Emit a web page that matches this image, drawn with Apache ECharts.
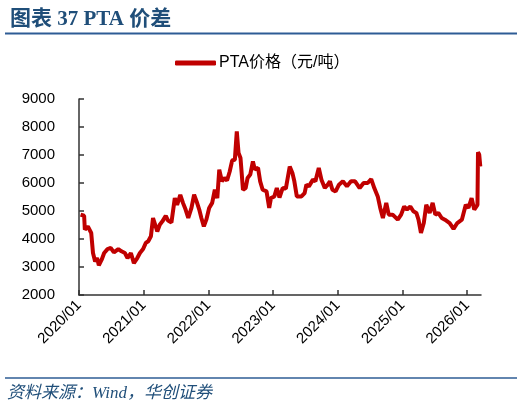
<!DOCTYPE html>
<html><head><meta charset="utf-8">
<script src="https://cdn.jsdelivr.net/npm/echarts@6/dist/echarts.min.js"></script>
<style>html,body{margin:0;padding:0;background:#fff}#c{width:524px;height:409px}</style>
</head><body><div id="c"></div>
<script>
const titleText = '图表 37 PTA 价差';
const sourceText = '资料来源：Wind，华创证券';
const seriesName = 'PTA价格（元/吨）';
const yTicks = [2000, 9000, 1000];
const dates = [
'2020-01-10','2020-01-30','2020-02-03','2020-02-20','2020-03-10','2020-03-20','2020-04-01','2020-04-12','2020-04-22','2020-05-08',
'2020-05-22','2020-06-10','2020-06-28','2020-07-16','2020-08-10','2020-08-28','2020-09-16','2020-10-01','2020-10-20','2020-11-06',
'2020-11-25','2020-12-10','2020-12-28','2021-01-12','2021-01-26','2021-02-10','2021-02-22','2021-03-03','2021-03-18','2021-04-01',
'2021-04-16','2021-05-05','2021-05-18','2021-06-06','2021-06-25','2021-07-08','2021-07-26','2021-08-10','2021-08-25','2021-09-09',
'2021-09-27','2021-10-12','2021-10-26','2021-11-10','2021-11-22','2021-12-06','2021-12-20','2022-01-05','2022-01-22','2022-02-06',
'2022-02-20','2022-03-03','2022-03-18','2022-04-01','2022-04-16','2022-05-01','2022-05-15','2022-05-30','2022-06-10','2022-06-20',
'2022-07-01','2022-07-15','2022-07-30','2022-08-10','2022-08-25','2022-09-09','2022-09-20','2022-10-08','2022-10-20','2022-11-03',
'2022-11-25','2022-12-10','2022-12-20','2023-01-08','2023-01-22','2023-02-06','2023-02-24','2023-03-14','2023-04-05','2023-04-20',
'2023-05-01','2023-05-15','2023-06-10','2023-06-28','2023-07-08','2023-07-22','2023-08-14','2023-08-28','2023-09-16','2023-10-01',
'2023-10-20','2023-11-06','2023-11-18','2023-12-02','2023-12-20','2024-01-08','2024-01-30','2024-02-22','2024-03-16','2024-04-08',
'2024-05-04','2024-05-26','2024-06-18','2024-07-08','2024-07-26','2024-08-14','2024-08-28','2024-09-12','2024-10-01','2024-10-15',
'2024-11-06','2024-12-05','2024-12-24','2025-01-10','2025-01-26','2025-02-14','2025-03-03','2025-03-20','2025-04-01','2025-04-15',
'2025-05-01','2025-05-15','2025-06-03','2025-06-20','2025-07-05','2025-07-22','2025-08-10','2025-08-28','2025-09-24','2025-10-16',
'2025-11-06','2025-12-02','2025-12-24','2026-01-08','2026-01-26','2026-02-10','2026-02-28','2026-03-03','2026-03-10','2026-03-16'
];
const ptaPrice = [
4870,4830,4330,4450,4215,3500,3200,3320,3060,3260,
3500,3640,3680,3520,3640,3560,3500,3320,3500,3140,
3320,3500,3640,3860,3920,4100,4750,4810,4270,4510,
4630,4830,4660,4590,5460,5220,5580,5290,5050,4750,
5110,5580,5340,5050,4750,4450,4690,5110,5290,5760,
5460,6475,6060,6180,6090,6410,6810,6830,7840,7070,
6890,5760,5820,6180,6300,6770,6480,6540,6060,5760,
5700,5110,5460,5520,5820,5480,5820,5800,6590,6360,
6060,5520,5520,5640,5940,5880,6120,6060,6540,6120,
5820,5940,6060,5760,5700,5940,6060,5880,6060,6060,
5820,6000,6000,6140,5810,5520,5110,4750,5290,4870,
4870,4690,4870,5160,5050,5160,4990,4930,4690,4215,
4570,5220,4930,5290,4870,4930,4750,4690,4570,4360,
4570,4690,5220,5110,5460,5050,5220,7100,7010,6590
];
const xMin = '2020-01-01', xMax = '2026-03-20';

const chart = echarts.init(document.getElementById('c'));
const blue = '#1F4E79';
chart.setOption({
  animation: false,
  title: {
    text: titleText, left: 5, top: 4,
    textStyle: { fontFamily: '"Liberation Serif","Noto Sans CJK SC",serif', fontWeight: 'bold', fontSize: 21, color: blue }
  },
  graphic: [
    { type: 'line', shape: { x1: 5, y1: 33.5, x2: 517, y2: 33.5 }, style: { stroke: '#2E5C95', lineWidth: 2 } },
    { type: 'line', shape: { x1: 5, y1: 378, x2: 517, y2: 378 }, style: { stroke: '#2E5C95', lineWidth: 1.5 } },
    { type: 'text', left: 7, top: 385, style: { text: sourceText, fill: blue, font: 'italic 17px "Liberation Serif","Noto Sans CJK SC",serif' } }
  ],
  legend: {
    top: 50, left: 170, itemWidth: 41, itemHeight: 5, itemGap: 10,
    icon: 'roundRect',
    textStyle: { fontSize: 16, color: '#000', fontFamily: '"Liberation Sans","Noto Sans CJK SC",sans-serif', padding: [0,0,0,-2] },
    data: [seriesName]
  },
  grid: { left: 79, right: 43, top: 99, bottom: 114, containLabel: false },
  xAxis: {
    type: 'time', min: xMin, max: xMax,
    minInterval: 365 * 24 * 3600 * 1000, maxInterval: 366 * 24 * 3600 * 1000,
    splitLine: { show: false },
    axisLine: { lineStyle: { color: '#333', width: 1.5 } },
    axisTick: { inside: true, length: 5, lineStyle: { color: '#333', width: 1.5 } },
    axisLabel: {
      rotate: 45, fontSize: 15, color: '#000', margin: 8, showMaxLabel: false,
      fontFamily: '"Liberation Sans",sans-serif',
      formatter: function (v) { const d = new Date(v); return d.getFullYear() + '/' + String(d.getMonth() + 1).padStart(2, '0'); }
    }
  },
  yAxis: {
    type: 'value', min: yTicks[0], max: yTicks[1], interval: yTicks[2],
    splitLine: { show: false },
    axisLine: { show: true, lineStyle: { color: '#333', width: 1.5 } },
    axisTick: { show: true, inside: true, length: 5, lineStyle: { color: '#333', width: 1.5 } },
    axisLabel: { fontSize: 15, color: '#000', margin: 24, fontFamily: '"Liberation Sans",sans-serif', formatter: v => String(v) }
  },
  series: [{
    name: seriesName, type: 'line', showSymbol: false, symbol: 'none',
    data: dates.map((d, i) => [d, ptaPrice[i]]),
    lineStyle: { color: '#C00000', width: 4 },
    itemStyle: { color: '#C00000' }
  }]
});
</script></body></html>
